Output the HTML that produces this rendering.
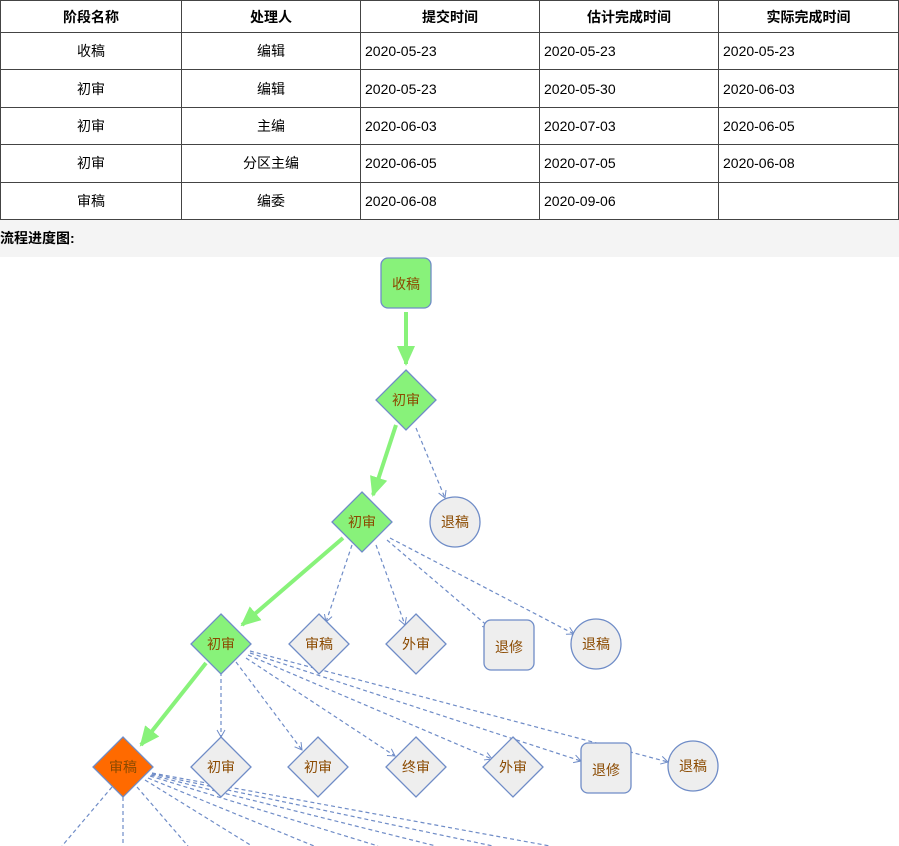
<!DOCTYPE html>
<html><head><meta charset="utf-8"><style>
body{margin:0;width:899px;height:846px;overflow:hidden;background:#fff;font-family:"Liberation Sans","Noto Sans CJK SC",sans-serif;}
table{position:absolute;left:0;top:0;border-collapse:collapse;width:899px;}
td,th{border:1px solid #444;height:36.4px;font-size:14px;padding:0 4px;}
th{height:31px;font-weight:bold;text-align:center;}
td.c{text-align:center}
.band{position:absolute;left:0;top:220px;width:899px;height:37px;background:#f4f4f4;font-weight:bold;font-size:14px;line-height:37px;}
svg{position:absolute;left:0;top:0}
</style></head><body>
<table>
<tr><th style="width:172px">阶段名称</th><th style="width:170px">处理人</th><th style="width:170px">提交时间</th><th style="width:170px">估计完成时间</th><th>实际完成时间</th></tr>
<tr><td class="c">收稿</td><td class="c">编辑</td><td>2020-05-23</td><td>2020-05-23</td><td>2020-05-23</td></tr>
<tr><td class="c">初审</td><td class="c">编辑</td><td>2020-05-23</td><td>2020-05-30</td><td>2020-06-03</td></tr>
<tr><td class="c">初审</td><td class="c">主编</td><td>2020-06-03</td><td>2020-07-03</td><td>2020-06-05</td></tr>
<tr><td class="c">初审</td><td class="c">分区主编</td><td>2020-06-05</td><td>2020-07-05</td><td>2020-06-08</td></tr>
<tr><td class="c">审稿</td><td class="c">编委</td><td>2020-06-08</td><td>2020-09-06</td><td></td></tr>
</table>
<div class="band">流程进度图:</div>
<svg width="899" height="846" xmlns="http://www.w3.org/2000/svg">
<defs>
<marker id="a" markerWidth="10" markerHeight="10" refX="8" refY="5" orient="auto" markerUnits="userSpaceOnUse"><path d="M1,1 L8,5 L1,9" fill="none" stroke="#6f8cc7" stroke-width="1"/></marker>
<marker id="g" markerWidth="24" markerHeight="24" refX="18" refY="12" orient="auto" markerUnits="userSpaceOnUse"><path d="M0,3 L20,12 L0,21z" fill="#88f27a"/></marker>
</defs>
<g stroke="#88f27a" stroke-width="4" fill="none">
<line x1="406" y1="312" x2="406" y2="364" marker-end="url(#g)"/>
<line x1="396" y1="425" x2="373" y2="495" marker-end="url(#g)"/>
<line x1="343" y1="538" x2="242" y2="625" marker-end="url(#g)"/>
<line x1="206" y1="663" x2="141" y2="745" marker-end="url(#g)"/>
</g>
<g stroke="#6f8cc7" stroke-width="1.2" stroke-dasharray="4,3" fill="none">
<line x1="416" y1="428" x2="445" y2="498" marker-end="url(#a)"/>
<line x1="352" y1="545" x2="326" y2="622" marker-end="url(#a)"/>
<line x1="376" y1="545" x2="405" y2="625" marker-end="url(#a)"/>
<line x1="387" y1="540" x2="490" y2="628" marker-end="url(#a)"/>
<line x1="390" y1="538" x2="574" y2="634" marker-end="url(#a)"/>
<line x1="221" y1="672" x2="221" y2="737" marker-end="url(#a)"/>
<line x1="236" y1="662" x2="302" y2="750" marker-end="url(#a)"/>
<line x1="246" y1="658" x2="395" y2="756" marker-end="url(#a)"/>
<line x1="248" y1="655" x2="492" y2="759" marker-end="url(#a)"/>
<line x1="250" y1="653" x2="581" y2="761" marker-end="url(#a)"/>
<line x1="250" y1="651" x2="668" y2="762" marker-end="url(#a)"/>
<line x1="112" y1="787" x2="62" y2="846"/>
<line x1="123" y1="797" x2="123" y2="846"/>
<line x1="137" y1="787" x2="188" y2="846"/>
<line x1="145" y1="780" x2="252" y2="846"/>
<line x1="148" y1="778" x2="314" y2="846"/>
<line x1="150" y1="776" x2="378" y2="846"/>
<line x1="151" y1="775" x2="436" y2="846"/>
<line x1="152" y1="774" x2="493" y2="846"/>
<line x1="152" y1="773" x2="550" y2="846"/>
</g>
<g stroke="#6f8cc7" stroke-width="1.3" font-size="14" text-anchor="middle" fill="#8b4a00">
<rect x="381" y="258" width="50" height="50" rx="7" fill="#88f27a"/>
<path d="M406 370 L436 400 L406 430 L376 400Z" fill="#88f27a"/>
<path d="M362 492 L392 522 L362 552 L332 522Z" fill="#88f27a"/>
<circle cx="455" cy="522" r="25" fill="#eee"/>
<path d="M221 614 L251 644 L221 674 L191 644Z" fill="#88f27a"/>
<path d="M319 614 L349 644 L319 674 L289 644Z" fill="#eee"/>
<path d="M416 614 L446 644 L416 674 L386 644Z" fill="#eee"/>
<rect x="484" y="620" width="50" height="50" rx="7" fill="#eee"/>
<circle cx="596" cy="644" r="25" fill="#eee"/>
<path d="M123 737 L153 767 L123 797 L93 767Z" fill="#ff6a00"/>
<path d="M221 737 L251 767 L221 797 L191 767Z" fill="#eee"/>
<path d="M318 737 L348 767 L318 797 L288 767Z" fill="#eee"/>
<path d="M416 737 L446 767 L416 797 L386 767Z" fill="#eee"/>
<path d="M513 737 L543 767 L513 797 L483 767Z" fill="#eee"/>
<rect x="581" y="743" width="50" height="50" rx="7" fill="#eee"/>
<circle cx="693" cy="766" r="25" fill="#eee"/>
<g stroke="none">
<text x="406" y="289">收稿</text>
<text x="406" y="405">初审</text>
<text x="362" y="527">初审</text>
<text x="455" y="527">退稿</text>
<text x="221" y="649">初审</text>
<text x="319" y="649">审稿</text>
<text x="416" y="649">外审</text>
<text x="509" y="652">退修</text>
<text x="596" y="649">退稿</text>
<text x="123" y="772">审稿</text>
<text x="221" y="772">初审</text>
<text x="318" y="772">初审</text>
<text x="416" y="772">终审</text>
<text x="513" y="772">外审</text>
<text x="606" y="775">退修</text>
<text x="693" y="771">退稿</text>
</g>
</g>
</svg>
</body></html>
